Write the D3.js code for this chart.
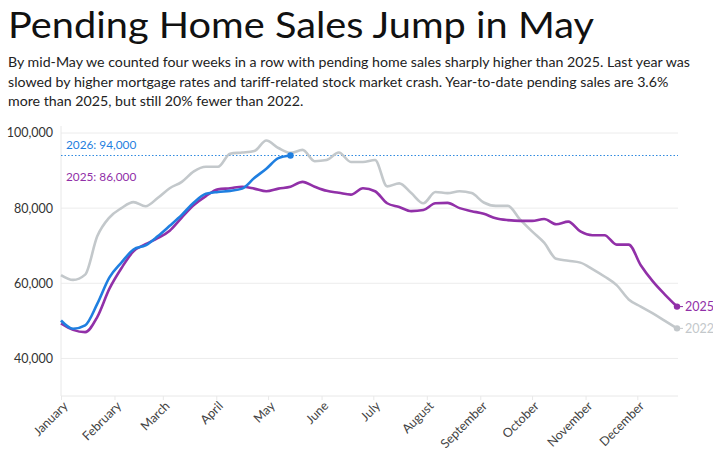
<!DOCTYPE html>
<html>
<head>
<meta charset="utf-8">
<script src="https://cdn.jsdelivr.net/npm/d3@7"></script>
<style>
  html, body { margin: 0; padding: 0; background: #fff; }
  body { width: 713px; height: 467px; overflow: hidden; font-family: Lato, "Noto Sans", sans-serif; }
</style>
</head>
<body>
<div id="chart"></div>
<script>
// weekly pending home sales, starting Jan 1
const sales2022 = [62200, 60900, 62300, 72500, 77500, 80000, 81600, 80500, 82700, 85300, 87000, 89800, 91000, 91000,
  94500, 94800, 95200, 98000, 96000, 94700, 95500, 92500, 92800, 94800, 92300, 92300, 92800, 85800, 86600, 84000,
  81300, 84300, 84000, 84500, 84000, 81500, 80600, 80600, 77000, 73800, 70800, 66500, 66000, 65500, 63800, 61800,
  59500, 55700, 53800, 52000, 50000, 48000];
const sales2025 = [49300, 47600, 47000, 51000, 58500, 64000, 68500, 70400, 72000, 74000, 77500, 80800, 83200, 85000,
  85300, 85700, 85200, 84500, 85200, 85700, 87000, 85700, 84600, 84100, 83600, 85300, 84500, 81300, 80300, 79200,
  79500, 81300, 81400, 80000, 79200, 78500, 77300, 76800, 76600, 76600, 77100, 75700, 76400, 73800, 72800, 72800,
  70300, 70300, 64800, 60500, 57000, 53800];
const sales2026 = [50100, 47900, 48800, 54500, 61500, 65500, 69000, 70100, 72500, 75300, 78200, 81500, 83800, 84300,
  84600, 85200, 88000, 90500, 93300, 94000];
const yTicks = [40000, 60000, 80000, 100000];
const title = "Pending Home Sales Jump in May";
const subtitle = [
  "By mid-May we counted four weeks in a row with pending home sales sharply higher than 2025. Last year was",
  "slowed by higher mortgage rates and tariff-related stock market crash. Year-to-date pending sales are 3.6%",
  "more than 2025, but still 20% fewer than 2022."
];
const markers = [{ label: "2026: 94,000", value: 94000 }, { label: "2025: 86,000", value: 86000 }];

const colors = { y2022: "#c3c8cb", y2025: "#9130a8", y2026: "#1f7fe0" };

const width = 713, height = 467;
const svg = d3.select("#chart").append("svg").attr("width", width).attr("height", height);

svg.append("text").attr("x", 8).attr("y", 38).attr("font-size", 36).attr("fill", "#111")
  .attr("textLength", 586).attr("lengthAdjust", "spacingAndGlyphs").text(title);
svg.append("g").selectAll("text").data(subtitle).join("text")
  .attr("x", 8).attr("y", (d, i) => 67 + i * 19.5)
  .attr("font-size", 14.2).attr("fill", "#222").text(d => d);

const start = new Date(2026, 0, 1);
const week = i => d3.timeDay.offset(start, i * 7);
const x = d3.scaleTime().domain([start, week(51)]).range([61, 677]);
const y = d3.scaleLinear().domain([30000, 100000]).range([396, 133]);

// grid
svg.append("g").selectAll("line").data(yTicks).join("line")
  .attr("x1", 61).attr("x2", 678).attr("y1", d => y(d)).attr("y2", d => y(d))
  .attr("stroke", "#ececec").attr("stroke-width", 1);

// y labels
svg.append("g").selectAll("text").data(yTicks).join("text")
  .attr("x", 53).attr("y", d => y(d)).attr("dy", "0.35em").attr("text-anchor", "end")
  .attr("font-size", 12.5).attr("fill", "#333").text(d3.format(","));

// left + bottom axis
svg.append("line").attr("x1", 61).attr("x2", 61).attr("y1", 126).attr("y2", 396).attr("stroke", "#e8e8e8");
const xAxis = svg.append("g").attr("transform", "translate(0,396)")
  .call(d3.axisBottom(x).ticks(d3.timeMonth.every(1)).tickFormat(d3.timeFormat("%B")).tickSize(4));
xAxis.select(".domain").attr("d", "M61,0H678").attr("stroke", "#e8e8e8");
xAxis.selectAll(".tick line").attr("stroke", "#e8e8e8");
xAxis.selectAll(".tick text")
  .attr("font-family", "Lato, sans-serif").attr("font-size", 12.5).attr("fill", "#444")
  .attr("text-anchor", "end").attr("transform", "rotate(-45)").attr("dx", "-0.2em").attr("dy", "0.45em");

// reference line
svg.append("line").attr("x1", 61).attr("x2", 678).attr("y1", y(94000)).attr("y2", y(94000))
  .attr("stroke", "#2f8ae0").attr("stroke-width", 1.1).attr("stroke-dasharray", "1.5,2");

svg.append("g").selectAll("text").data(markers).join("text")
  .attr("x", 66).attr("y", (d, i) => i === 0 ? 149 : 181)
  .attr("font-size", 11.8).attr("fill", (d, i) => i === 0 ? colors.y2026 : colors.y2025).text(d => d.label);

const line = d3.line().x((d, i) => x(week(i))).y(d => y(d)).curve(d3.curveMonotoneX);
const series = [
  { data: sales2022, color: colors.y2022, label: "2022" },
  { data: sales2025, color: colors.y2025, label: "2025" },
  { data: sales2026, color: colors.y2026, label: null }
];
series.forEach(s => {
  svg.append("path").datum(s.data).attr("fill", "none").attr("stroke", s.color)
    .attr("stroke-width", 2.6).attr("stroke-linejoin", "round").attr("d", line);
  const n = s.data.length - 1;
  const px = x(week(n)), py = y(s.data[n]);
  svg.append("circle").attr("cx", px).attr("cy", py).attr("r", 3.2).attr("fill", s.color);
  if (s.label) {
    svg.append("line").attr("x1", px).attr("x2", px + 6).attr("y1", py).attr("y2", py)
      .attr("stroke", s.color).attr("stroke-width", 1);
    svg.append("text").attr("x", px + 8).attr("y", py).attr("dy", "0.35em")
      .attr("font-size", 12.5).attr("fill", s.color).text(s.label);
  }
});
</script>
</body>
</html>
